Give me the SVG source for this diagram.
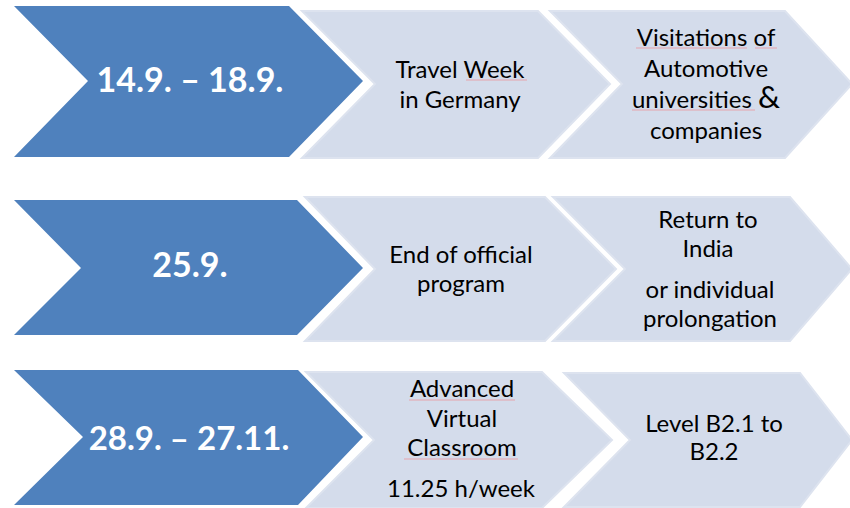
<svg xmlns="http://www.w3.org/2000/svg" width="850" height="508" viewBox="0 0 850 508">
<style>
.dark{fill:#4F81BD;}
.light{fill:#D4DCEB;stroke:#DDE3EF;stroke-width:2;stroke-linejoin:miter;}
.date{font-family:Lato,"Liberation Sans",sans-serif;font-weight:bold;font-size:34px;fill:#FFFFFF;text-anchor:middle;}
.lbl{font-family:Lato,"Liberation Sans",sans-serif;font-size:24px;fill:#000000;text-anchor:middle;}
.amp{font-size:31px;}
.sq{stroke:#E6A3AC;stroke-width:1;fill:none;}
</style>
<rect width="850" height="508" fill="#FFFFFF"/>

<g id="row1-date">
<polygon class="dark" points="14,6 289,6 363,81 289,157 14,157 88,81"/>
<text class="date" x="190" y="92">14.9. – 18.9.</text>
</g>
<g id="row1-travel">
<polygon class="light" points="302,11 538,11 610,84 538,158 302,158 375,84"/>
<text class="lbl" x="460" y="78">Travel Week</text>
<text class="lbl" x="460" y="108">in Germany</text>
<line class="sq" x1="466" y1="80" x2="527" y2="80"/>
</g>
<g id="row1-visits">
<polygon class="light" points="550,11 785,11 852,84 785,158 550,158 622,84"/>
<text class="lbl" x="706" y="46">Visitations of</text>
<text class="lbl" x="706" y="77">Automotive</text>
<text class="lbl" x="706" y="108">universities <tspan class="amp">&amp;</tspan></text>
<text class="lbl" x="706" y="139">companies</text>
<line class="sq" x1="636" y1="48" x2="747" y2="48"/>
<line class="sq" x1="755" y1="48" x2="777" y2="48"/>
<line class="sq" x1="632" y1="110" x2="755" y2="110"/>
</g>

<g id="row2-date">
<polygon class="dark" points="14,200 297,200 363,268 297,335 14,335 81,268"/>
<text class="date" x="190" y="277">25.9.</text>
</g>
<g id="row2-end">
<polygon class="light" points="305,197 545,197 616,269 545,341 305,341 375,269"/>
<text class="lbl" x="461" y="263">End of official</text>
<text class="lbl" x="461" y="292">program</text>
</g>
<g id="row2-return">
<polygon class="light" points="553,197 790,197 852,269 790,341 553,341 625,269"/>
<text class="lbl" x="708" y="228">Return to</text>
<text class="lbl" x="708" y="257">India</text>
<text class="lbl" x="710" y="298">or individual</text>
<text class="lbl" x="710" y="327">prolongation</text>
</g>

<g id="row3-date">
<polygon class="dark" points="14,370 298,370 363,437 298,505 14,505 83,437"/>
<text class="date" x="189" y="450" style="font-size:33px">28.9. – 27.11.</text>
</g>
<g id="row3-class">
<polygon class="light" points="306,372 542,372 612,440 542,508 306,508 374,440"/>
<text class="lbl" x="462" y="397">Advanced</text>
<text class="lbl" x="462" y="427">Virtual</text>
<text class="lbl" x="462" y="456">Classroom</text>
<text class="lbl" x="461" y="497">11.25 h/week</text>
<line class="sq" x1="409" y1="400" x2="515" y2="400"/>
<line class="sq" x1="404" y1="459" x2="518" y2="459"/>
</g>
<g id="row3-level">
<polygon class="light" points="564,373 800,373 852,440 800,507 564,507 630,440"/>
<text class="lbl" x="714" y="432">Level B2.1 to</text>
<text class="lbl" x="714" y="460">B2.2</text>
</g>

<g id="connectors"></g>
</svg>
